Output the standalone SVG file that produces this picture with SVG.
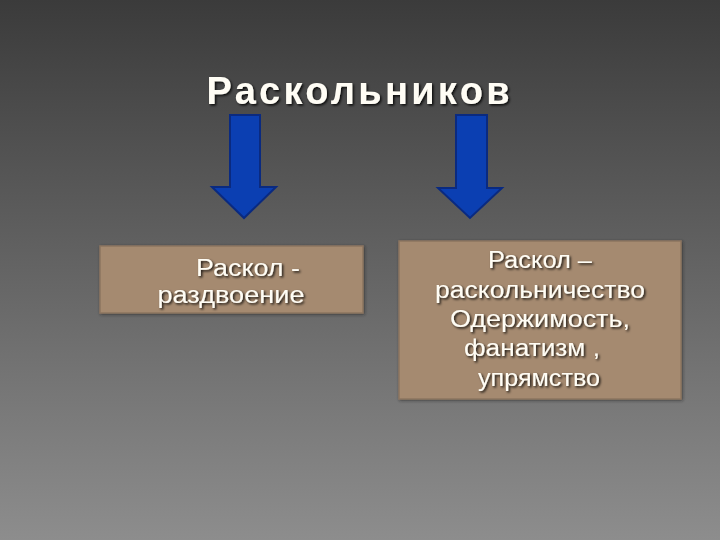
<svg xmlns="http://www.w3.org/2000/svg" width="720" height="540" viewBox="0 0 720 540">
<defs>
<linearGradient id="bg" x1="0" y1="0" x2="0" y2="1">
<stop offset="0" stop-color="#3b3b3b"/>
<stop offset="1" stop-color="#8d8d8d"/>
</linearGradient>
<filter id="sh" x="-10%" y="-30%" width="120%" height="160%">
<feDropShadow dx="1.5" dy="1.5" stdDeviation="0.8" flood-color="#000" flood-opacity="0.85"/>
</filter>
<filter id="bsh" x="-10%" y="-10%" width="120%" height="120%">
<feDropShadow dx="1" dy="1" stdDeviation="1.5" flood-color="#222" flood-opacity="0.6"/>
</filter>
</defs>
<style>
.t{font-family:"Liberation Sans","DejaVu Sans",sans-serif;fill:#fffdf5;text-anchor:middle;filter:url(#sh)}
.title{font-size:38px;font-weight:bold}
.b{font-size:23px}
.box{fill:#a58a6f;stroke:#8c7560;stroke-width:1.5;filter:url(#bsh)}
.arr{fill:#0b3fb2;stroke:#0a2a80;stroke-width:2;stroke-linejoin:miter}
</style>
<rect width="720" height="540" fill="url(#bg)"/>
<g id="title">
<text class="t title" x="358" y="104" textLength="303" lengthAdjust="spacing">Раскольников</text>
</g>
<g id="connectors">
<polygon class="arr" points="230,115 260,115 260,187 276,187 244,218 212,187 230,187"/>
<polygon class="arr" points="456,115 487,115 487,188 502,188 470,218 438,188 456,188"/>
</g>
<g id="node-left">
<rect class="box" x="100" y="246" width="263" height="67"/>
<text class="t b" x="248" y="276" textLength="104" lengthAdjust="spacingAndGlyphs">Раскол -</text>
<text class="t b" x="231" y="303" textLength="147" lengthAdjust="spacingAndGlyphs">раздвоение</text>
</g>
<g id="node-right">
<rect class="box" x="399" y="241" width="282" height="158"/>
<text class="t b" x="540" y="268" textLength="104" lengthAdjust="spacingAndGlyphs">Раскол –</text>
<text class="t b" x="540" y="298" textLength="210" lengthAdjust="spacingAndGlyphs">раскольничество</text>
<text class="t b" x="540" y="327" textLength="180" lengthAdjust="spacingAndGlyphs">Одержимость,</text>
<text class="t b" x="532" y="356" textLength="136" lengthAdjust="spacingAndGlyphs">фанатизм ,</text>
<text class="t b" x="539" y="386" textLength="122" lengthAdjust="spacingAndGlyphs">упрямство</text>
</g>
</svg>
